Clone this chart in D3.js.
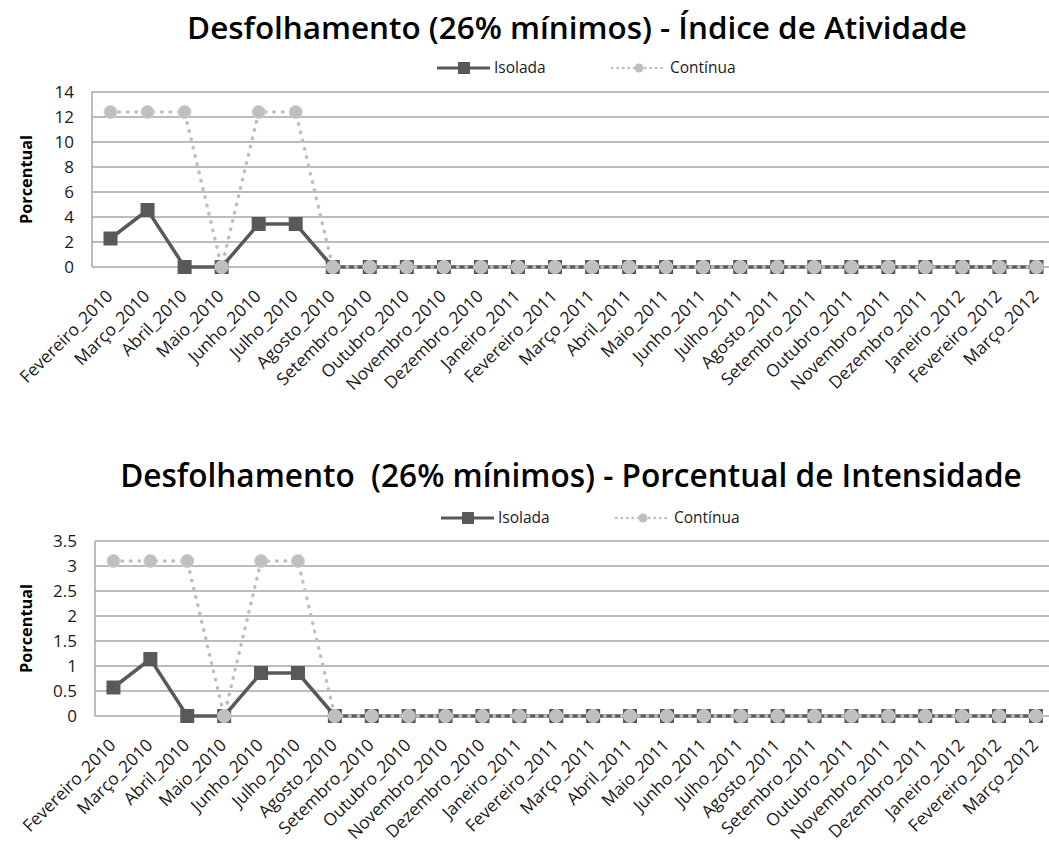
<!DOCTYPE html>
<html>
<head>
<meta charset="utf-8">
<script src="https://cdn.jsdelivr.net/npm/d3@7"></script>
<style>
  body { margin: 0; background: #fff; }
  svg { display: block; font-family: 'Open Sans', sans-serif; }
</style>
</head>
<body>
<div id="viz"></div>
<script>
// two Excel-style line charts: Isolada vs Contínua, one month per point

const months = [
    "Fevereiro_2010", "Março_2010", "Abril_2010", "Maio_2010", "Junho_2010", "Julho_2010",
    "Agosto_2010", "Setembro_2010", "Outubro_2010", "Novembro_2010", "Dezembro_2010",
    "Janeiro_2011", "Fevereiro_2011", "Março_2011", "Abril_2011", "Maio_2011", "Junho_2011",
    "Julho_2011", "Agosto_2011", "Setembro_2011", "Outubro_2011", "Novembro_2011",
    "Dezembro_2011", "Janeiro_2012", "Fevereiro_2012", "Março_2012"
];

const isoladaAtividade = [2.28, 4.56, 0, 0, 3.44, 3.44, 0, 0, 0, 0, 0, 0, 0, 0, 0, 0, 0, 0, 0, 0, 0, 0, 0, 0, 0, 0];
const continuaAtividade = [12.4, 12.4, 12.4, 0, 12.4, 12.4, 0, 0, 0, 0, 0, 0, 0, 0, 0, 0, 0, 0, 0, 0, 0, 0, 0, 0, 0, 0];

const isoladaIntensidade = [0.57, 1.14, 0, 0, 0.86, 0.86, 0, 0, 0, 0, 0, 0, 0, 0, 0, 0, 0, 0, 0, 0, 0, 0, 0, 0, 0, 0];
const continuaIntensidade = [3.1, 3.1, 3.1, 0, 3.1, 3.1, 0, 0, 0, 0, 0, 0, 0, 0, 0, 0, 0, 0, 0, 0, 0, 0, 0, 0, 0, 0];

const ticksAtividade = [0, 2, 4, 6, 8, 10, 12, 14];
const ticksIntensidade = [0, 0.5, 1, 1.5, 2, 2.5, 3, 3.5];

const seriesNames = ["Isolada", "Contínua"];

const colors = {
    isolada: '#595959',
    continua: '#bfbfbf',
    grid: '#a6a6a6',
    text: '#1a1a1a'
};

const viz = d3.select('#viz').append('svg')
    .attr('width', 1049)
    .attr('height', 847);

// scale a text's font size so it spans the wanted width
function fitWidth(sel, target) {
    const len = sel.node().getComputedTextLength();
    const size = parseFloat(sel.style('font-size'));
    sel.style('font-size', (size * target / len) + 'px');
}

function drawChart(cfg) {
    const g = viz.append('g');

    const xScale = d3.scalePoint()
        .domain(months)
        .range([cfg.left, cfg.left + cfg.step * months.length])
        .padding(0.5);

    const yScale = d3.scaleLinear()
        .domain(d3.extent(cfg.ticks))
        .range([cfg.bottom, cfg.top]);

    // title
    const title = g.append('text')
        .attr('x', cfg.titleCx)
        .attr('y', cfg.titleY)
        .attr('text-anchor', 'middle')
        .style('font-weight', 600)
        .style('font-size', '30px')
        .style('white-space', 'pre')
        .attr('fill', '#000')
        .text(cfg.title);
    fitWidth(title, cfg.titleWidth);

    // gridlines
    g.append('g').selectAll('line')
        .data(cfg.ticks)
        .join('line')
        .attr('x1', cfg.left)
        .attr('x2', 1100)
        .attr('y1', d => yScale(d))
        .attr('y2', d => yScale(d))
        .attr('stroke', colors.grid)
        .attr('stroke-width', 1.5);

    g.append('line')
        .attr('x1', cfg.left).attr('x2', cfg.left)
        .attr('y1', cfg.top).attr('y2', cfg.bottom)
        .attr('stroke', colors.grid)
        .attr('stroke-width', 1.5);

    // y axis labels
    g.append('g').selectAll('text')
        .data(cfg.ticks)
        .join('text')
        .attr('x', cfg.left - 18)
        .attr('y', d => yScale(d))
        .attr('dy', '0.35em')
        .attr('text-anchor', 'end')
        .style('font-size', '17px')
        .attr('fill', colors.text)
        .text(d => d);

    const yTitle = g.append('text')
        .attr('transform', `translate(32, ${(cfg.top + cfg.bottom) / 2}) rotate(-90)`)
        .attr('text-anchor', 'middle')
        .style('font-weight', 700)
        .style('font-size', '16px')
        .attr('fill', '#000')
        .text('Porcentual');
    fitWidth(yTitle, 89);

    // x labels
    g.append('g').selectAll('text')
        .data(months)
        .join('text')
        .attr('transform', d => `translate(${xScale(d) - 1}, ${cfg.bottom + 26}) rotate(-45)`)
        .attr('text-anchor', 'end')
        .attr('dy', '0.35em')
        .style('font-size', '17.3px')
        .attr('fill', colors.text)
        .text(d => d);

    const line = d3.line()
        .x((d, i) => xScale(months[i]))
        .y(d => yScale(d));

    // Isolada
    g.append('path')
        .datum(cfg.isolada)
        .attr('fill', 'none')
        .attr('stroke', colors.isolada)
        .attr('stroke-width', 3.5)
        .attr('d', line);

    g.append('g').selectAll('rect')
        .data(cfg.isolada)
        .join('rect')
        .attr('x', (d, i) => xScale(months[i]) - 7)
        .attr('y', d => yScale(d) - 7)
        .attr('width', 14)
        .attr('height', 14)
        .attr('fill', colors.isolada);

    // Contínua
    g.append('path')
        .datum(cfg.continua)
        .attr('fill', 'none')
        .attr('stroke', colors.continua)
        .attr('stroke-width', 3.5)
        .attr('stroke-linecap', 'round')
        .attr('stroke-dasharray', '0.5 8')
        .attr('d', line);

    g.append('g').selectAll('circle')
        .data(cfg.continua)
        .join('circle')
        .attr('cx', (d, i) => xScale(months[i]))
        .attr('cy', d => yScale(d))
        .attr('r', 6.5)
        .attr('fill', colors.continua)
        .attr('stroke', '#d0d0d0')
        .attr('stroke-width', 1);

    // legend
    const leg = g.append('g').attr('transform', `translate(${cfg.legendX}, ${cfg.legendY})`);

    leg.append('line')
        .attr('x1', 0).attr('x2', 53)
        .attr('stroke', colors.isolada).attr('stroke-width', 3);
    leg.append('rect')
        .attr('x', 21).attr('y', -6).attr('width', 12).attr('height', 12)
        .attr('fill', colors.isolada);
    leg.append('text')
        .attr('x', 57).attr('dy', '0.35em')
        .style('font-size', '15.5px')
        .attr('fill', colors.text)
        .text(seriesNames[0]);

    leg.append('line')
        .attr('x1', 175).attr('x2', 225)
        .attr('stroke', colors.continua).attr('stroke-width', 2.5)
        .attr('stroke-linecap', 'round')
        .attr('stroke-dasharray', '0.5 5');
    leg.append('circle')
        .attr('cx', 202).attr('r', 4.5)
        .attr('fill', colors.continua);
    leg.append('text')
        .attr('x', 233).attr('dy', '0.35em')
        .style('font-size', '15.5px')
        .attr('fill', colors.text)
        .text(seriesNames[1]);
}

drawChart({
    title: 'Desfolhamento (26% mínimos) - Índice de Atividade',
    titleCx: 577, titleY: 39, titleWidth: 780,
    legendX: 437, legendY: 68,
    left: 92, top: 92, bottom: 267, step: 37.04,
    ticks: ticksAtividade,
    isolada: isoladaAtividade,
    continua: continuaAtividade
});

drawChart({
    title: 'Desfolhamento  (26% mínimos) - Porcentual de Intensidade',
    titleCx: 571, titleY: 487, titleWidth: 902,
    legendX: 441, legendY: 518,
    left: 95, top: 541, bottom: 716, step: 36.9,
    ticks: ticksIntensidade,
    isolada: isoladaIntensidade,
    continua: continuaIntensidade
});
</script>
</body>
</html>
